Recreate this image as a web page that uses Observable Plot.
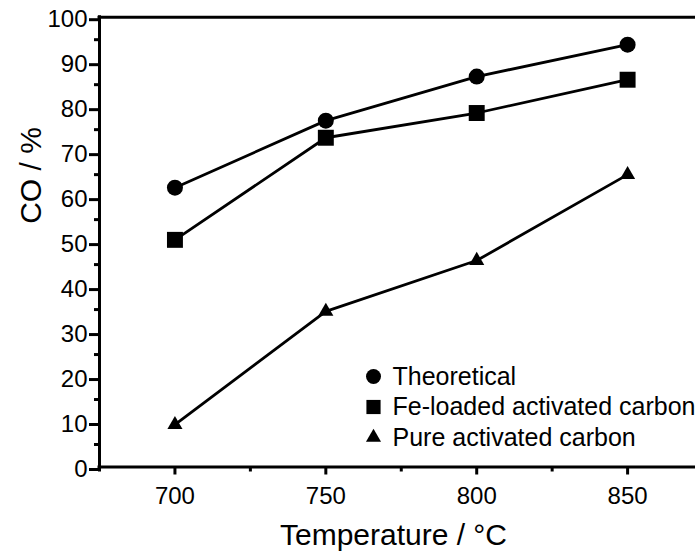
<!DOCTYPE html>
<html>
<head>
<meta charset="utf-8">
<script src="https://cdn.jsdelivr.net/npm/d3@7"></script>
<script src="https://cdn.jsdelivr.net/npm/@observablehq/plot@0.6"></script>
<style>
  html, body { margin: 0; padding: 0; background: #fff; }
  #chart svg { display: block; }
</style>
</head>
<body>
<div id="chart"></div>
<script>
// ---- data ----
const temperatures = [700, 750, 800, 850];
const theoretical = [62.1, 77.0, 86.8, 93.9];
const feLoaded = [50.5, 73.2, 78.7, 86.1];
const pureCarbon = [9.4, 34.6, 45.9, 65.0];
const seriesNames = ["Theoretical", "Fe-loaded activated carbon", "Pure activated carbon"];
const seriesSymbols = ["circle", "square", "triangle"];
const xTicks = [700, 750, 800, 850];
const xMinorTicks = [675, 725, 775, 825];
const yTicks = [0, 10, 20, 30, 40, 50, 60, 70, 80, 90, 100];
const yMinorTicks = [5, 15, 25, 35, 45, 55, 65, 75, 85, 95];
const xTitle = "Temperature / °C";
const yTitle = "CO / %";

// ---- build table ----
const seriesValues = [theoretical, feLoaded, pureCarbon];
const rows = [];
seriesNames.forEach((name, i) => {
  temperatures.forEach((t, j) => rows.push({series: name, temp: t, co: seriesValues[i][j]}));
});

const font = "'Liberation Sans', Arial, Helvetica, sans-serif";
const dotR = {"Theoretical": 8, "Fe-loaded activated carbon": 9, "Pure activated carbon": 5.6};
const legendR = {"Theoretical": 7.5, "Fe-loaded activated carbon": 8, "Pure activated carbon": 5.6};
const legendDy = [-90.5, -60, -29.5];

const marks = [
  // frame lines
  Plot.ruleY([100], {stroke: "#000", strokeWidth: 3, strokeLinecap: "square"}),
  Plot.ruleY([0], {stroke: "#000", strokeWidth: 3, strokeLinecap: "square"}),
  Plot.ruleX([675], {stroke: "#000", strokeWidth: 3, strokeLinecap: "square"}),
  // y axis
  Plot.axisY({ticks: yTicks, tickSize: 10, tickPadding: 2, strokeWidth: 3, fontSize: 24, dy: 2.5, label: null, tickFormat: d => String(d)}),
  Plot.axisY({ticks: yMinorTicks, tickSize: 5, strokeWidth: 3, text: null, label: null}),
  // x axis
  Plot.axisX({ticks: xTicks, tickSize: 8, tickPadding: 12, strokeWidth: 3, fontSize: 24, label: null, tickFormat: d => String(d)}),
  Plot.axisX({ticks: xMinorTicks, tickSize: 5, strokeWidth: 3, text: null, label: null}),
  // axis titles
  Plot.text([xTitle], {frameAnchor: "bottom", text: d => d, dx: -4, dy: 77.5, lineAnchor: "bottom", fontSize: 30, fill: "#000"}),
  Plot.text([yTitle], {frameAnchor: "left", text: d => d, rotate: -90, dx: -59, dy: -18.3, lineAnchor: "bottom", fontSize: 30, fill: "#000"}),
  // lines
  Plot.line(rows, {x: "temp", y: "co", z: "series", stroke: "#000", strokeWidth: 2.8})
];

seriesNames.forEach((name, i) => {
  marks.push(Plot.dot(rows.filter(d => d.series === name), {x: "temp", y: "co", symbol: () => seriesSymbols[i], fill: "#000", stroke: "none", r: dotR[name]}));
  // legend
  marks.push(Plot.dot([name], {frameAnchor: "bottom-left", dx: 274, dy: legendDy[i], symbol: () => seriesSymbols[i], fill: "#000", stroke: "none", r: legendR[name]}));
  marks.push(Plot.text([name], {frameAnchor: "bottom-left", dx: 293, dy: legendDy[i], text: d => d, textAnchor: "start", lineAnchor: "middle", fontSize: 25, fill: "#000"}));
});

const chart = Plot.plot({
  width: 695,
  height: 551,
  marginLeft: 99,
  marginRight: 0,
  marginTop: 16.7,
  marginBottom: 84.5,
  x: {domain: [675, 872.5]},
  y: {domain: [0, 100]},
  symbol: {type: "identity"},
  style: {fontFamily: font, color: "#000", background: "#fff", overflow: "visible"},
  marks
});
document.getElementById("chart").appendChild(chart);
</script>
</body>
</html>
